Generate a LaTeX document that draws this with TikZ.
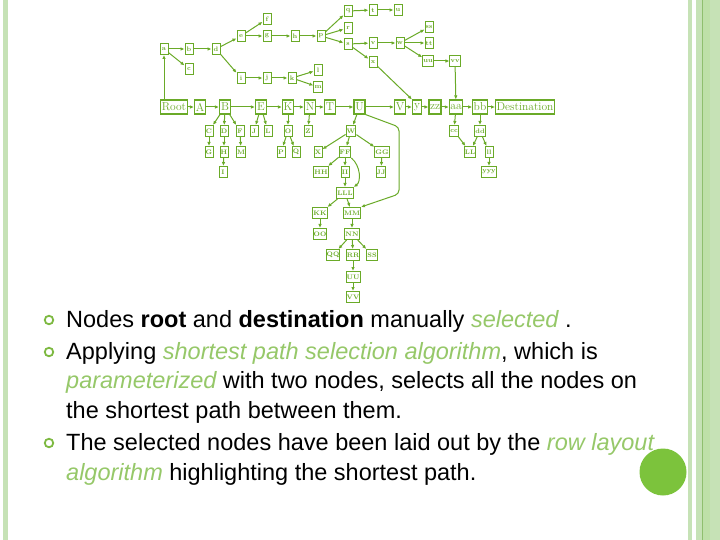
\documentclass[tikz,border=0pt]{standalone}
\usepackage{fontspec}
\newfontfamily\arialf{Liberation Sans}
\usetikzlibrary{arrows.meta}
\definecolor{gc}{RGB}{106,170,40}
\definecolor{tg}{RGB}{150,200,105}
\definecolor{bul}{RGB}{125,185,65}
\definecolor{barl}{RGB}{198,226,182}
\definecolor{barm}{RGB}{190,224,168}
\definecolor{bard}{RGB}{143,191,110}
\definecolor{dotg}{RGB}{124,195,60}
\begin{document}
\begin{tikzpicture}[x=1pt,y=-1pt,
  sn/.style={draw=gc, line width=1.0, fill=white, text=gc, minimum width=8, minimum height=11, inner sep=0.6, font=\bfseries\fontsize{6.5}{6.5}\selectfont},
  bn/.style={draw=gc, line width=1.1, fill=white, text=gc, minimum width=11, minimum height=14, inner sep=1.0, font=\fontsize{11.5}{11.5}\selectfont},
  ar/.style={draw=gc, line width=1.0, -{Latex[length=4pt,width=3.5pt]}},
  bulletring/.style={circle, draw=bul, line width=1.8, minimum size=8.5, inner sep=0},
  txt/.style={anchor=base west, inner sep=0, font=\arialf\fontsize{23.5}{23.5}\selectfont}
]
\useasboundingbox (0,0) rectangle (720,540);
\fill[white] (0,0) rectangle (720,540);
% slide border bars
\fill[barl] (3,0) rectangle (8,540);
\fill[barl] (687.5,0) rectangle (692,540);
\fill[barl] (696,0) rectangle (702,540);
\fill[bard] (702,0) rectangle (703,540);
\fill[barm] (703,0) rectangle (710,540);
\fill[barl] (710,0) rectangle (720,540);

% ---------- main row ----------
\node[bn, minimum width=27] (Root) at (174,107) {Root};
\node[bn] (A) at (200,107) {A};
\node[bn] (B) at (225,107) {B};
\node[bn] (E) at (261,107) {E};
\node[bn] (K) at (288,107) {K};
\node[bn] (N) at (310,107) {N};
\node[bn] (T) at (330,107) {T};
\node[bn] (U) at (359.5,107) {U};
\node[bn] (V) at (400,107) {V};
\node[bn, minimum width=9] (y) at (417,107) {y};
\node[bn] (zz) at (435,107) {zz};
\node[bn] (aa) at (456,107) {aa};
\node[bn] (bb) at (480,107) {bb};
\node[bn, minimum width=58] (Dest) at (525,107) {Destination};

% ---------- upper cluster ----------
\node[sn] (na) at (164,49) {a};
\node[sn] (nb) at (189,49) {b};
\node[sn] (nc) at (189,69) {c};
\node[sn] (nd) at (216,49) {d};
\node[sn] (ne) at (241,36) {e};
\node[sn] (nf) at (267,19) {f};
\node[sn] (ng) at (267,36) {g};
\node[sn] (nh) at (295,36) {h};
\node[sn] (ni) at (241,78) {i};
\node[sn] (nj) at (267,78) {j};
\node[sn] (nk) at (292,78) {k};
\node[sn] (nl) at (318,70) {l};
\node[sn] (nm) at (318,87) {m};
\node[sn] (np) at (321,36) {p};
\node[sn] (nq) at (348,11) {q};
\node[sn] (nr) at (348,28) {r};
\node[sn] (ns) at (348,44) {s};
\node[sn] (nt) at (373,10) {t};
\node[sn] (nu) at (398,10) {u};
\node[sn] (nv) at (373,43) {v};
\node[sn] (nw) at (400,43) {w};
\node[sn] (nx) at (373,62) {x};
\node[sn] (nss) at (429,27) {ss};
\node[sn] (ntt) at (429,43) {tt};
\node[sn] (nuu) at (428,61) {uu};
\node[sn] (nvv) at (455,61) {vv};

% ---------- lower nodes ----------
\node[sn] (nC) at (209,131) {C};
\node[sn] (nD) at (224,131) {D};
\node[sn] (nF) at (240,131) {F};
\node[sn] (nJ) at (254,131) {J};
\node[sn] (nL) at (268,131) {L};
\node[sn] (nO) at (288,131) {O};
\node[sn] (nZ) at (308,131) {Z};
\node[sn] (nW) at (351,131) {W};
\node[sn] (ncc) at (454,131) {cc};
\node[sn] (ndd) at (480,131) {dd};
\node[sn] (nG) at (209,152) {G};
\node[sn] (nH) at (224,152) {H};
\node[sn] (nM) at (241,152) {M};
\node[sn] (nP) at (281,152) {P};
\node[sn] (nQ) at (296,152) {Q};
\node[sn] (nX) at (318,152) {X};
\node[sn] (nFF) at (345,152) {FF};
\node[sn] (nGG) at (382,152) {GG};
\node[sn] (nLL) at (470,152) {LL};
\node[sn] (nll) at (489,152) {ll};
\node[sn] (nI) at (223,172) {I};
\node[sn] (nHH) at (321,172) {HH};
\node[sn] (nII) at (345,172) {II};
\node[sn] (nJJ) at (381,172) {JJ};
\node[sn] (nyyy) at (489,172) {yyy};
\node[sn] (nLLL) at (345,193) {LLL};
\node[sn] (nKK) at (320,213) {KK};
\node[sn] (nMM) at (352,213) {MM};
\node[sn] (nOO) at (320,234) {OO};
\node[sn] (nNN) at (352,234) {NN};
\node[sn] (nQQ) at (333,255) {QQ};
\node[sn] (nRR) at (353,255) {RR};
\node[sn] (nSS) at (372,255) {SS};
\node[sn] (nUU) at (353,277) {UU};
\node[sn] (nVV) at (353,297) {VV};

% ---------- edges: main row ----------
\draw[ar] (Root) -- (A);
\draw[ar] (A) -- (B);
\draw[ar] (B) -- (E);
\draw[ar] (E) -- (K);
\draw[ar] (K) -- (N);
\draw[ar] (N) -- (T);
\draw[ar] (T) -- (U);
\draw[ar] (U) -- (V);
\draw[ar] (V) -- (y);
\draw[ar] (y) -- (zz);
\draw[ar] (zz) -- (aa);
\draw[ar] (aa) -- (bb);
\draw[ar] (bb) -- (Dest);
\draw[ar] (Root.north -| na) -- (na);

% upper cluster edges
\draw[ar] (na) -- (nb);
\draw[ar] (na) -- (nc);
\draw[ar] (nb) -- (nd);
\draw[ar] (nd) -- (ne);
\draw[ar] (nd) -- (ni);
\draw[ar] (ne) -- (nf);
\draw[ar] (ne) -- (ng);
\draw[ar] (ng) -- (nh);
\draw[ar] (nh) -- (np);
\draw[ar] (np) -- (nq);
\draw[ar] (np) -- (nr);
\draw[ar] (np) -- (ns);
\draw[ar] (nq) -- (nt);
\draw[ar] (nt) -- (nu);
\draw[ar] (ns) -- (nv);
\draw[ar] (ns) -- (nx);
\draw[ar] (nv) -- (nw);
\draw[ar] (nw) -- (nss);
\draw[ar] (nw) -- (ntt);
\draw[ar] (nw) -- (nuu);
\draw[ar] (nuu) -- (nvv);
\draw[ar] (nvv) -- (aa);
\draw[ar] (nx) -- (y.north west);
\draw[ar] (ni) -- (nj);
\draw[ar] (nj) -- (nk);
\draw[ar] (nk) -- (nl);
\draw[ar] (nk) -- (nm);

% lower edges
\draw[ar] (B) -- (nC);
\draw[ar] (B) -- (nD);
\draw[ar] (B) -- (nF);
\draw[ar] (E) -- (nJ);
\draw[ar] (E) -- (nL);
\draw[ar] (K) -- (nO);
\draw[ar] (N) -- (nZ);
\draw[ar] (U) -- (nW);
\draw[ar] (aa) -- (ncc);
\draw[ar] (bb) -- (ndd);
\draw[ar] (nC) -- (nG);
\draw[ar] (nD) -- (nH);
\draw[ar] (nF) -- (nM);
\draw[ar] (nH) -- (nI);
\draw[ar] (nO) -- (nP);
\draw[ar] (nO) -- (nQ);
\draw[ar] (nW) -- (nX);
\draw[ar] (nW) -- (nFF);
\draw[ar] (nW) -- (nGG);
\draw[ar] (nGG) -- (nJJ);
\draw[ar] (nFF) -- (nHH);
\draw[ar] (nFF) -- (nII);
\draw[ar] (nII) -- (nLLL);
\draw[ar] (nFF.south east) .. controls (361,166) and (361,182) .. (nLLL.north east);
\draw[ar] (ncc) -- (nLL);
\draw[ar] (ndd) -- (nLL);
\draw[ar] (ndd) -- (nll);
\draw[ar] (nll) -- (nyyy);
\draw[ar, rounded corners=4] (U.south east) -- (399,127) -- (399,194) -- (nMM.north east);
\draw[ar] (nLLL) -- (nKK);
\draw[ar] (nLLL) -- (nMM);
\draw[ar] (nKK) -- (nOO);
\draw[ar] (nMM) -- (nNN);
\draw[ar] (nNN) -- (nQQ);
\draw[ar] (nNN) -- (nRR);
\draw[ar] (nNN) -- (nSS);
\draw[ar] (nRR) -- (nUU);
\draw[ar] (nUU) -- (nVV);

% ---------- bullet text ----------
\node[bulletring] (b1) at (49,320) {};
\node[bulletring] (b2) at (49,352) {};
\node[bulletring] (b3) at (49,443) {};
\node[txt] (l1) at (66,327) {Nodes \textbf{root} and \textbf{destination} manually {\color{tg}\itshape selected} .};
\node[txt] (l2) at (66,359) {Applying {\color{tg}\itshape shortest path selection algorithm}, which is};
\node[txt] (l3) at (66,388) {{\color{tg}\itshape parameterized} with two nodes, selects all the nodes on};
\node[txt] (l4) at (66,418) {the shortest path between them.};
\node[txt] (l5) at (66,450) {The selected nodes have been laid out by the {\color{tg}\itshape row layout}};
\node[circle, fill=dotg, minimum size=47, inner sep=0] (dot) at (663,472) {};
\node[txt] (l6) at (66,480) {{\color{tg}\itshape algorithm} highlighting the shortest path.};
\end{tikzpicture}
\end{document}
